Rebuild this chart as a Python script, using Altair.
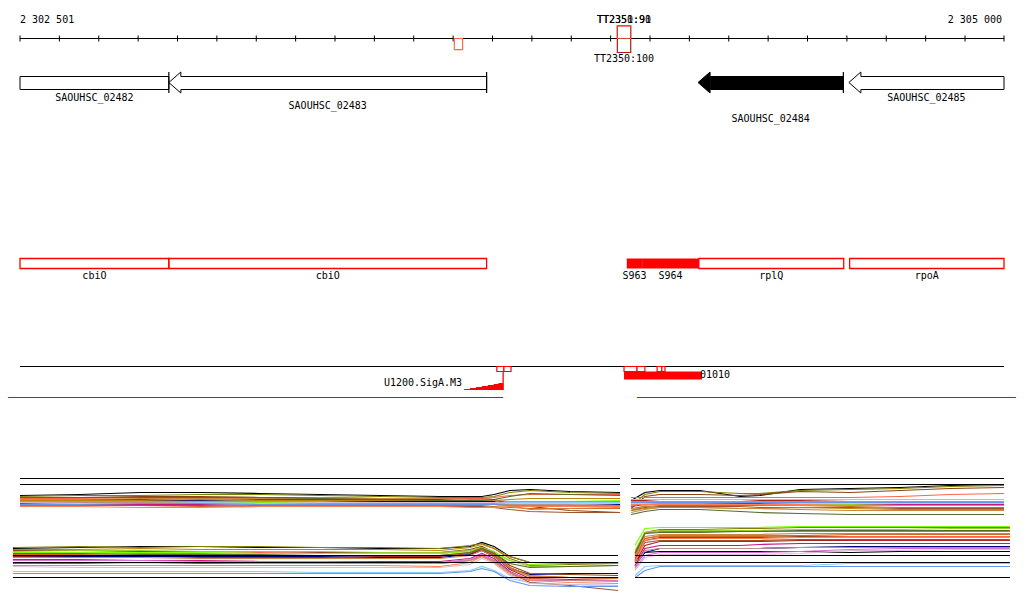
import altair as alt
import pandas as pd

# ------------------------------------------------------------------ data
VIEW_START = 2302501
VIEW_END = 2305000
TICK_STEP = 100

GENE_NAMES = ["SAOUHSC_02482", "SAOUHSC_02483", "SAOUHSC_02484", "SAOUHSC_02485"]
GENE_START = [2302300, 2302879, 2304223, 2304606]
GENE_END = [2302879, 2303686, 2304592, 2305250]
GENE_STRAND = ["-", "-", "-", "-"]
GENE_SELECTED = [False, False, True, False]
GENE_LABEL_ROW = [0, 1, 2, 0]

TERM_NAMES = ["TT2348", "TT2350", "TT2350", "TT2351"]
TERM_START = [2303604, 2304018, 2304018, 2304018]
TERM_END = [2303625, 2304052, 2304052, 2304052]
TERM_STRAND = ["-", "-", "+", "+"]
TERM_SCORE = [80, 100, 91, 90]
TERM_LABELLED = [False, True, True, True]

FEAT_NAMES = ["cbiO", "cbiO", "S963", "S964", "rplQ", "rpoA"]
FEAT_START = [2302400, 2302879, 2304042, 2304081, 2304225, 2304608]
FEAT_END = [2302879, 2303686, 2304081, 2304225, 2304593, 2305300]
FEAT_SRNA = [False, False, True, True, False, False]

PROMOTER_NAME = "U1200.SigA.M3"
PROMOTER_X = [2303629, 2303644, 2303659, 2303674, 2303689, 2303704, 2303716, 2303728]
PROMOTER_SCORE = [1, 2, 3, 4, 5, 6, 7, 7]
SITE_START = [2303712, 2303730, 2304035, 2304068, 2304119, 2304131]
SITE_END = [2303730, 2303748, 2304068, 2304088, 2304131, 2304139]
REGION_NAME = "01010"
REGION_START = 2304035
REGION_END = 2304233
BOUNDARY_START = [2302400, 2304068]
BOUNDARY_END = [2303728, 2305100]

SERIES_COLORS = ["#000000", "#808000", "#8b4513", "#ff6347", "#b22222", "#000080",
                 "#7cfc00", "#9acd32", "#87cefa", "#c71585", "#d2691e", "#a0522d",
                 "#da70d6", "#b8860b", "#bc8f8f", "#ff7f50", "#cd853f", "#d8bfd8",
                 "#556b2f", "#6495ed"]

UL_X = [2302501, 2302653, 2302806, 2302958, 2303110, 2303263, 2303415, 2303567,
        2303644, 2303674, 2303705, 2303745, 2303796, 2303898, 2304025]
UR_X = [2304053, 2304088, 2304126, 2304228, 2304330, 2304380, 2304482, 2304609,
        2304736, 2304863, 2305000]
LL_X = [2302483, 2302653, 2302806, 2302958, 2303110, 2303263, 2303415, 2303567,
        2303644, 2303674, 2303705, 2303745, 2303796, 2303898, 2304020]
LR_X = [2304063, 2304088, 2304126, 2304228, 2304330, 2304380, 2304482, 2304609,
        2304736, 2304863, 2305015]

UL = [
    [10.5, 10.6, 10.8, 10.8, 10.7, 10.6, 10.5, 10.4, 10.4, 10.4, 10.6, 11.0, 11.1, 10.9, 10.8],
    [10.4, 10.5, 10.5, 10.6, 10.6, 10.5, 10.4, 10.3, 10.3, 10.3, 10.4, 10.8, 11.0, 10.8, 10.7],
    [10.3, 10.3, 10.4, 10.4, 10.3, 10.3, 10.2, 10.2, 10.2, 10.2, 10.1, 9.7, 9.4, 9.0, 8.8],
    [10.2, 10.2, 10.3, 10.3, 10.2, 10.3, 10.2, 10.2, 10.2, 10.2, 10.3, 10.5, 10.6, 10.6, 10.6],
    [10.1, 10.1, 10.1, 10.2, 10.1, 10.1, 10.1, 10.1, 10.0, 10.0, 9.9, 9.8, 9.7, 9.7, 9.7],
    [10.0, 10.0, 10.0, 10.0, 9.9, 9.9, 9.9, 9.9, 9.9, 9.9, 9.9, 9.8, 9.8, 9.7, 9.6],
    [9.8, 9.8, 9.9, 9.9, 9.8, 9.8, 9.8, 9.8, 9.8, 9.8, 9.7, 9.8, 9.9, 9.9, 10.0],
    [9.9, 9.9, 9.8, 9.8, 9.9, 9.8, 9.7, 9.7, 9.7, 9.7, 9.7, 9.6, 9.6, 9.5, 9.5],
    [9.7, 9.7, 9.7, 9.8, 9.7, 9.7, 9.8, 9.8, 9.8, 9.8, 9.8, 9.8, 9.8, 9.8, 9.8],
    [9.7, 9.6, 9.6, 9.6, 9.7, 9.7, 9.6, 9.6, 9.6, 9.6, 9.6, 9.5, 9.5, 9.5, 9.4],
    [9.5, 9.5, 9.5, 9.4, 9.5, 9.5, 9.5, 9.5, 9.5, 9.5, 9.4, 9.3, 9.2, 9.2, 9.2],
    [9.6, 9.6, 9.5, 9.5, 9.4, 9.4, 9.4, 9.4, 9.4, 9.4, 9.3, 9.1, 8.9, 8.8, 8.8],
    [9.9, 9.9, 9.9, 9.9, 9.9, 9.9, 10.0, 10.0, 10.0, 10.0, 10.0, 9.9, 9.9, 9.9, 9.9],
    [10.0, 10.0, 10.0, 10.1, 10.0, 10.0, 10.0, 10.0, 10.0, 10.0, 10.0, 10.1, 10.2, 10.2, 10.2],
    [9.8, 9.8, 9.8, 9.7, 9.7, 9.7, 9.7, 9.7, 9.7, 9.7, 9.7, 9.6, 9.6, 9.6, 9.5],
    [9.4, 9.4, 9.3, 9.3, 9.4, 9.4, 9.4, 9.4, 9.3, 9.3, 9.3, 9.4, 9.4, 9.4, 9.4],
    [10.1, 10.1, 10.2, 10.2, 10.2, 10.2, 10.2, 10.2, 10.1, 10.1, 10.0, 9.5, 9.1, 9.2, 9.3],
    [9.8, 9.7, 9.7, 9.7, 9.7, 9.8, 9.8, 9.8, 9.8, 9.8, 9.8, 9.7, 9.7, 9.7, 9.7],
    [10.3, 10.3, 10.3, 10.3, 10.3, 10.2, 10.1, 10.0, 10.0, 10.0, 10.1, 10.4, 10.7, 10.6, 10.5],
    [9.6, 9.6, 9.7, 9.7, 9.6, 9.6, 9.6, 9.6, 9.6, 9.6, 9.6, 9.5, 9.5, 9.5, 9.5],
]
UR = [
    [10.0, 10.8, 11.0, 11.0, 10.4, 10.5, 11.1, 11.2, 11.3, 11.5, 11.6],
    [9.5, 10.6, 10.9, 10.9, 10.7, 10.7, 11.0, 11.1, 11.2, 11.4, 11.5],
    [9.2, 10.4, 10.6, 10.6, 10.5, 10.6, 10.9, 10.8, 11.0, 11.2, 11.3],
    [10.3, 10.3, 10.3, 10.3, 10.3, 10.3, 10.3, 10.3, 10.4, 10.6, 10.7],
    [10.0, 10.0, 9.9, 9.9, 9.9, 10.0, 10.0, 9.9, 9.9, 9.9, 9.9],
    [9.8, 9.8, 9.8, 9.7, 9.7, 9.7, 9.7, 9.7, 9.7, 9.7, 9.7],
    [9.7, 9.8, 9.9, 9.8, 9.8, 9.9, 9.8, 9.8, 9.8, 9.8, 9.8],
    [9.0, 9.5, 9.7, 9.7, 9.7, 9.7, 9.6, 9.6, 9.6, 9.6, 9.6],
    [10.1, 10.1, 10.1, 10.1, 10.1, 10.1, 10.1, 10.1, 10.1, 10.1, 10.1],
    [9.4, 9.6, 9.7, 9.7, 9.7, 9.7, 9.7, 9.7, 9.6, 9.6, 9.6],
    [9.2, 9.4, 9.5, 9.5, 9.5, 9.5, 9.5, 9.4, 9.3, 9.3, 9.3],
    [9.0, 9.3, 9.4, 9.4, 9.4, 9.3, 9.3, 9.3, 9.2, 9.2, 9.2],
    [9.9, 9.9, 9.9, 9.9, 9.9, 9.9, 9.9, 9.9, 9.9, 9.9, 9.9],
    [9.0, 9.2, 9.3, 9.3, 9.2, 9.2, 9.3, 9.2, 9.1, 9.1, 9.1],
    [9.5, 9.7, 9.7, 9.7, 9.6, 9.6, 9.5, 9.5, 9.5, 9.5, 9.5],
    [9.6, 9.6, 9.6, 9.6, 9.6, 9.6, 9.6, 9.5, 9.5, 9.5, 9.5],
    [8.8, 9.1, 9.3, 9.3, 9.2, 9.2, 9.1, 9.0, 9.0, 9.0, 9.0],
    [9.7, 9.7, 9.8, 9.8, 9.8, 9.8, 9.7, 9.7, 9.7, 9.7, 9.7],
    [8.6, 8.9, 9.1, 9.1, 8.9, 8.8, 8.7, 8.6, 8.6, 8.6, 8.6],
    [9.8, 9.8, 9.8, 9.8, 9.8, 9.8, 9.8, 9.8, 9.8, 9.8, 9.8],
]
LL = [
    [11.2, 11.3, 11.4, 11.4, 11.3, 11.3, 11.2, 11.2, 11.4, 11.8, 11.4, 10.4, 9.8, 9.8, 9.8],
    [11.3, 11.4, 11.3, 11.4, 11.4, 11.3, 11.3, 11.2, 11.5, 11.7, 11.2, 10.2, 9.5, 9.6, 9.7],
    [11.0, 11.0, 10.9, 10.9, 10.9, 10.8, 10.8, 10.8, 11.1, 11.4, 10.8, 9.5, 8.7, 8.6, 8.5],
    [10.8, 10.8, 10.7, 10.7, 10.8, 10.7, 10.7, 10.7, 11.0, 11.3, 10.7, 9.3, 8.4, 8.3, 8.3],
    [10.4, 10.4, 10.4, 10.3, 10.3, 10.3, 10.4, 10.4, 10.7, 11.1, 10.5, 9.1, 8.2, 8.1, 8.2],
    [10.5, 10.4, 10.4, 10.4, 10.4, 10.4, 10.3, 10.3, 10.6, 11.0, 10.4, 9.2, 8.6, 8.7, 8.7],
    [10.8, 10.8, 10.8, 10.8, 10.7, 10.7, 10.7, 10.7, 10.9, 11.2, 10.7, 10.0, 9.6, 9.7, 9.8],
    [10.9, 11.0, 11.0, 10.9, 10.9, 10.9, 10.8, 10.8, 11.0, 11.3, 10.9, 10.0, 9.4, 9.4, 9.5],
    [8.9, 8.9, 8.9, 8.9, 8.9, 8.8, 8.8, 8.8, 9.0, 9.4, 9.0, 8.2, 7.8, 7.6, 7.5],
    [10.1, 10.1, 10.0, 10.0, 9.9, 9.9, 9.9, 9.9, 10.2, 10.7, 10.2, 8.9, 8.0, 8.0, 8.0],
    [10.6, 10.6, 10.5, 10.5, 10.5, 10.5, 10.5, 10.5, 10.8, 11.2, 10.6, 9.3, 8.5, 8.3, 8.2],
    [9.7, 9.7, 9.8, 9.7, 9.7, 9.7, 9.7, 9.7, 10.0, 10.5, 10.0, 8.8, 7.8, 7.5, 7.0],
    [10.0, 10.0, 10.0, 9.9, 9.9, 9.9, 9.8, 9.8, 10.1, 10.6, 10.0, 8.8, 8.0, 8.0, 8.0],
    [11.1, 11.1, 11.2, 11.1, 11.1, 11.1, 11.1, 11.0, 11.3, 11.6, 11.2, 10.4, 9.8, 9.7, 9.7],
    [9.8, 9.8, 9.8, 9.8, 9.7, 9.7, 9.7, 9.7, 10.0, 10.4, 9.9, 8.8, 8.1, 8.0, 7.9],
    [9.5, 9.5, 9.5, 9.5, 9.5, 9.5, 9.5, 9.4, 9.8, 10.4, 9.8, 8.6, 8.0, 7.8, 7.7],
    [10.3, 10.3, 10.3, 10.2, 10.2, 10.2, 10.2, 10.2, 10.5, 11.0, 10.4, 9.2, 8.4, 8.3, 8.2],
    [9.4, 9.3, 9.3, 9.3, 9.3, 9.3, 9.3, 9.3, 9.6, 10.2, 9.7, 8.5, 7.7, 7.6, 7.5],
    [10.7, 10.7, 10.6, 10.6, 10.6, 10.5, 10.5, 10.5, 10.8, 11.2, 10.7, 9.7, 9.3, 9.4, 9.5],
    [8.7, 8.7, 8.7, 8.7, 8.7, 8.7, 8.7, 8.7, 8.9, 9.2, 8.9, 8.0, 7.5, 7.4, 7.4],
]
LR = [
    [10.0, 10.8, 10.9, 10.9, 10.9, 10.9, 10.9, 10.8, 10.9, 10.9, 10.9],
    [10.5, 12.8, 13.1, 13.1, 13.2, 13.2, 13.3, 13.3, 13.3, 13.3, 13.3],
    [10.0, 12.0, 12.3, 12.3, 12.3, 12.3, 12.4, 12.4, 12.4, 12.4, 12.4],
    [10.0, 12.2, 12.5, 12.5, 12.5, 12.5, 12.5, 12.4, 12.4, 12.4, 12.4],
    [9.8, 11.5, 11.9, 11.9, 11.9, 11.9, 12.0, 12.0, 12.0, 12.0, 12.0],
    [9.5, 10.8, 11.2, 11.2, 11.2, 11.2, 11.3, 11.4, 11.4, 11.4, 11.4],
    [11.5, 13.2, 13.3, 13.3, 13.3, 13.3, 13.4, 13.4, 13.4, 13.4, 13.4],
    [11.0, 12.8, 13.0, 13.0, 13.0, 13.0, 13.1, 13.1, 13.1, 13.2, 13.2],
    [8.5, 9.4, 9.5, 9.5, 9.5, 9.5, 9.5, 9.7, 9.7, 9.7, 9.7],
    [9.5, 11.2, 11.5, 11.5, 11.5, 11.6, 11.7, 11.7, 11.7, 11.7, 11.7],
    [10.5, 12.2, 12.4, 12.4, 12.4, 12.4, 12.5, 12.6, 12.6, 12.6, 12.6],
    [10.2, 11.8, 12.0, 12.0, 12.0, 12.0, 12.1, 12.1, 12.1, 12.1, 12.1],
    [9.2, 10.5, 10.8, 10.8, 10.8, 10.8, 10.9, 11.1, 11.2, 11.2, 11.2],
    [10.8, 12.7, 12.9, 12.9, 12.9, 12.9, 12.9, 12.9, 12.9, 12.9, 12.9],
    [9.3, 11.0, 11.2, 11.2, 11.2, 11.2, 11.3, 11.3, 11.3, 11.3, 11.3],
    [9.8, 12.0, 12.2, 12.2, 12.2, 12.2, 12.3, 12.3, 12.3, 12.3, 12.3],
    [10.4, 12.4, 12.6, 12.6, 12.6, 12.6, 12.7, 12.7, 12.7, 12.7, 12.7],
    [9.0, 10.3, 10.6, 10.6, 10.6, 10.6, 10.7, 11.0, 11.0, 11.1, 11.1],
    [10.7, 12.7, 12.8, 12.8, 12.9, 12.9, 13.0, 13.0, 13.0, 13.0, 13.0],
    [8.3, 9.0, 9.4, 9.4, 9.4, 9.4, 9.4, 9.4, 9.4, 9.4, 9.4],
]
UPPER_REF = [12.2, 11.6]
LOWER_REF = [10.5, 9.8, 8.3]

# ------------------------------------------------------------------ layout
MARGIN = 8
CHART_W, CHART_H = 1008, 590
LEFT_PX, RIGHT_PX = 20, 1004
BP_PER_PX = (VIEW_END - VIEW_START) / (RIGHT_PX - LEFT_PX)
X0 = VIEW_START - (LEFT_PX - MARGIN) * BP_PER_PX
X1 = X0 + CHART_W * BP_PER_PX

XS = alt.Scale(domain=[X0, X1], nice=False, zero=False)
YS = alt.Scale(domain=[MARGIN, MARGIN + CHART_H], reverse=True, nice=False, zero=False)
FONT = "DejaVu Sans Mono"
FS = 10


def X(f="x"):
    return alt.X(f"{f}:Q", scale=XS, axis=None)


def Y(f="y"):
    return alt.Y(f"{f}:Q", scale=YS, axis=None)


def clip(v):
    return min(max(v, VIEW_START), VIEW_END)


layers = []

# ---- ruler
RULER_Y = 38.5
ruler = pd.DataFrame({"x": [VIEW_START], "x2": [VIEW_END], "y": [RULER_Y]})
layers.append(alt.Chart(ruler).mark_rule(color="black", strokeWidth=1)
              .encode(x=X(), x2="x2:Q", y=Y()))
ticks = list(range(VIEW_START, VIEW_END, TICK_STEP)) + [VIEW_END]
tick_df = pd.DataFrame({"x": ticks, "y": RULER_Y - 3, "y2": RULER_Y + 3})
layers.append(alt.Chart(tick_df).mark_rule(color="black", strokeWidth=1)
              .encode(x=X(), y=Y(), y2="y2:Q"))
rl = pd.DataFrame({"x": [VIEW_START, VIEW_END],
                   "t": [f"{VIEW_START:,}".replace(",", " "), f"{VIEW_END:,}".replace(",", " ")],
                   "a": ["l", "r"], "y": 20})
layers.append(alt.Chart(rl[rl.a == "l"]).mark_text(font=FONT, fontSize=FS, align="left", baseline="middle")
              .encode(x=X(), y=Y(), text="t:N"))
layers.append(alt.Chart(rl[rl.a == "r"]).mark_text(font=FONT, fontSize=FS, align="right", baseline="middle", dx=-2)
              .encode(x=X(), y=Y(), text="t:N"))

# ---- terminators
rows = []
for n, s, e, st, sc, lab in zip(TERM_NAMES, TERM_START, TERM_END, TERM_STRAND, TERM_SCORE, TERM_LABELLED):
    h = sc * 0.14
    if st == "+":
        y1, y2, ly = RULER_Y - h, RULER_Y, 20
    else:
        y1, y2, ly = RULER_Y, RULER_Y + h, 59
    rows.append({"x": s, "x2": e, "y": y1, "y2": y2, "score": sc,
                 "label": f"{n}:{sc}" if lab else "", "lx": (s + e) / 2, "ly": ly})
term = pd.DataFrame(rows)
layers.append(alt.Chart(term).mark_rect(fillOpacity=0, strokeWidth=1.2)
              .encode(x=X(), x2="x2:Q", y=Y(), y2="y2:Q",
                      stroke=alt.Color("score:Q", scale=alt.Scale(domain=[80, 100], range=["#ff6a4a", "#b01818"]),
                                       legend=None)))
layers.append(alt.Chart(term).mark_text(font=FONT, fontSize=FS, baseline="middle", color="black")
              .encode(x=X("lx"), y=Y("ly"), text="label:N"))

# ---- genes
HEAD_T, BODY_T, MID, BODY_B, HEAD_B = 72, 76.5, 82.5, 89.5, 93
HEAD_BP = 12 * BP_PER_PX
LABEL_ROW_Y = {0: 97.5, 1: 106, 2: 118.5}
verts, bars, labels, fill_body, fill_head = [], [], [], [], []
for gi, (n, s0, e0, st, sel, row) in enumerate(zip(GENE_NAMES, GENE_START, GENE_END, GENE_STRAND,
                                                    GENE_SELECTED, GENE_LABEL_ROW)):
    s, e = clip(s0), clip(e0)
    tl, tr = s0 < VIEW_START, e0 > VIEW_END
    if st == "-":
        tip, back, tip_trunc, back_trunc, d = s, e, tl, tr, 1
    else:
        tip, back, tip_trunc, back_trunc, d = e, s, tr, tl, -1
    if tip_trunc:
        pts = [(tip, BODY_T), (back, BODY_T), (back, BODY_B), (tip, BODY_B), (tip, BODY_T)]
    else:
        hb = tip + d * HEAD_BP
        pts = [(tip, MID), (hb, HEAD_T), (hb, BODY_T), (back, BODY_T), (back, BODY_B),
               (hb, BODY_B), (hb, HEAD_B), (tip, MID)]
        if sel:
            fill_head += [{"g": gi, "x": tip, "y": MID, "y2": MID}, {"g": gi, "x": hb, "y": HEAD_T, "y2": HEAD_B}]
            fill_body.append({"x": hb, "x2": back, "y": BODY_T, "y2": BODY_B})
    for i, (px, py) in enumerate(pts):
        verts.append({"g": gi, "i": i, "x": px, "y": py})
    if not back_trunc:
        bars.append({"x": back, "y": HEAD_T, "y2": HEAD_B})
    labels.append({"x": (s + e) / 2, "y": LABEL_ROW_Y[row], "t": n})

layers.append(alt.Chart(pd.DataFrame(fill_body)).mark_rect(color="black")
              .encode(x=X(), x2="x2:Q", y=Y(), y2="y2:Q"))
layers.append(alt.Chart(pd.DataFrame(fill_head)).mark_area(color="black")
              .encode(x=X(), y=Y(), y2="y2:Q", detail="g:N"))
layers.append(alt.Chart(pd.DataFrame(verts)).mark_line(color="black", strokeWidth=1)
              .encode(x=X(), y=Y(), detail="g:N", order="i:Q"))
layers.append(alt.Chart(pd.DataFrame(bars)).mark_rule(color="black", strokeWidth=1.2)
              .encode(x=X(), y=Y(), y2="y2:Q"))
layers.append(alt.Chart(pd.DataFrame(labels)).mark_text(font=FONT, fontSize=FS, baseline="middle")
              .encode(x=X(), y=Y(), text="t:N"))

# ---- annotation track
FT, FB, FL = 258.5, 268.5, 275.5
feat = pd.DataFrame({"x": [clip(v) for v in FEAT_START], "x2": [clip(v) for v in FEAT_END],
                     "n": FEAT_NAMES, "srna": FEAT_SRNA})
feat["y"], feat["y2"] = FT, FB
feat["lx"] = (feat.x + feat.x2) / 2
feat["ly"] = FL
layers.append(alt.Chart(feat[feat.srna]).mark_rect(color="red")
              .encode(x=X(), x2="x2:Q", y=Y(), y2="y2:Q"))
layers.append(alt.Chart(feat[~feat.srna]).mark_rect(fillOpacity=0, stroke="red", strokeWidth=1.3)
              .encode(x=X(), x2="x2:Q", y=Y(), y2="y2:Q"))
layers.append(alt.Chart(feat).mark_text(font=FONT, fontSize=FS, baseline="middle")
              .encode(x=X("lx"), y=Y("ly"), text="n:N"))

# ---- regulatory track
LINE_Y = 366.5
base = pd.DataFrame({"x": [VIEW_START], "x2": [VIEW_END], "y": [LINE_Y]})
layers.append(alt.Chart(base).mark_rule(color="black", strokeWidth=1)
              .encode(x=X(), x2="x2:Q", y=Y()))
RAMP_BASE = 390
ramp = pd.DataFrame({"x": PROMOTER_X, "h": PROMOTER_SCORE})
ramp["y"] = RAMP_BASE - ramp.h
ramp["y2"] = RAMP_BASE
layers.append(alt.Chart(ramp).mark_area(color="red", interpolate="step-after")
              .encode(x=X(), y=Y(), y2="y2:Q"))
tss = pd.DataFrame({"x": [PROMOTER_X[-1]], "y": [LINE_Y + 5], "y2": [RAMP_BASE]})
layers.append(alt.Chart(tss).mark_rule(color="red", strokeWidth=1.3)
              .encode(x=X(), y=Y(), y2="y2:Q"))
layers.append(alt.Chart(pd.DataFrame({"x": [PROMOTER_X[0]], "y": [383], "t": [PROMOTER_NAME]}))
              .mark_text(font=FONT, fontSize=FS, align="right", baseline="middle", dx=-2)
              .encode(x=X(), y=Y(), text="t:N"))
region = pd.DataFrame({"x": [REGION_START], "x2": [REGION_END], "y": [LINE_Y + 5], "y2": [LINE_Y + 13]})
layers.append(alt.Chart(region).mark_rect(color="red")
              .encode(x=X(), x2="x2:Q", y=Y(), y2="y2:Q"))
sites = pd.DataFrame({"x": SITE_START, "x2": SITE_END, "y": LINE_Y, "y2": LINE_Y + 5})
layers.append(alt.Chart(sites).mark_rect(fill="white", stroke="red", strokeWidth=1.2)
              .encode(x=X(), x2="x2:Q", y=Y(), y2="y2:Q"))
layers.append(alt.Chart(pd.DataFrame({"x": [REGION_END], "y": [375], "t": [REGION_NAME]}))
              .mark_text(font=FONT, fontSize=FS, align="left", baseline="middle", dx=-2)
              .encode(x=X(), y=Y(), text="t:N"))
bnd = pd.DataFrame({"x": [max(v, X0) for v in BOUNDARY_START], "x2": [min(v, X1) for v in BOUNDARY_END],
                    "y": 397.5})
layers.append(alt.Chart(bnd).mark_rule(color="red", strokeWidth=1)
              .encode(x=X(), x2="x2:Q", y=Y()))

# ---- expression panels
PANEL_BASE = {"UL": 600.5, "UR": 600.5, "LL": 660.5, "LR": 660.5}
PX_PER_UNIT = 10
rows = []
for pname, xs, mat in [("UL", UL_X, UL), ("UR", UR_X, UR), ("LL", LL_X, LL), ("LR", LR_X, LR)]:
    for si, vals in enumerate(mat):
        for xv, v in zip(xs, vals):
            rows.append({"key": f"{pname}{si}", "x": xv, "y": PANEL_BASE[pname] - PX_PER_UNIT * v,
                         "c": SERIES_COLORS[si]})
expr = pd.DataFrame(rows)
layers.append(alt.Chart(expr).mark_line(strokeWidth=1.2)
              .encode(x=X(), y=Y(), color=alt.Color("c:N", scale=None), detail="key:N", order="x:Q"))
ref_rows = []
for pname, xs, refs in [("UL", UL_X, UPPER_REF), ("UR", UR_X, UPPER_REF),
                        ("LL", LL_X, LOWER_REF), ("LR", LR_X, LOWER_REF)]:
    for r in refs:
        ref_rows.append({"x": xs[0], "x2": xs[-1], "y": PANEL_BASE[pname] - PX_PER_UNIT * r})
layers.append(alt.Chart(pd.DataFrame(ref_rows)).mark_rule(color="black", strokeWidth=1)
              .encode(x=X(), x2="x2:Q", y=Y()))

chart = (alt.layer(*layers)
         .properties(width=CHART_W, height=CHART_H, autosize=alt.AutoSizeParams(type="none"), padding=0)
         .configure(background="white")
         .configure_view(stroke=None))
chart.save("out.html", embed_options={"renderer": "svg", "actions": False})
